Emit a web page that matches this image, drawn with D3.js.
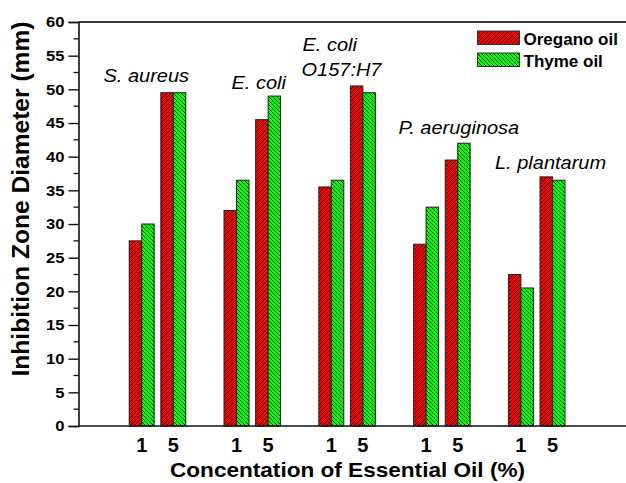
<!DOCTYPE html>
<html><head><meta charset="utf-8">
<script src="https://cdn.jsdelivr.net/npm/d3@7"></script>
<style>
body{margin:0;background:#fff;}
svg{display:block;font-family:"Liberation Sans",Arial,sans-serif;}
</style></head>
<body><svg id="c" width="626" height="483"></svg>
<script>
// ---- data ----
const organisms = ["S. aureus", "E. coli", "E. coli|O157:H7", "P. aeruginosa", "L. plantarum"];
const concentrations = ["1", "5"];
const seriesNames = ["Oregano oil", "Thyme oil"];
const oregano = [[27.5, 49.5], [32, 45.5], [35.5, 50.5], [27, 39.5], [22.5, 37]];
const thyme   = [[30, 49.5], [36.5, 49], [36.5, 49.5], [32.5, 42], [20.5, 36.5]];
const yTicks = [0, 5, 10, 15, 20, 25, 30, 35, 40, 45, 50, 55, 60];

// ---- layout ----
const svg = d3.select("#c");
const X0 = 78.5, Ytop = 22, Ybot = 426;
const x = d3.scaleLinear().domain([-2, 16]).range([X0, X0 + 18 * 31.6]);
const y = d3.scaleLinear().domain([0, 60]).range([Ybot, Ytop]);
const colors = ["#ff0000", "#00ff00"];
const barW = 0.395; // in position units
const pos = (g, c) => 3 * g + c;

// hatch patterns
const defs = svg.append("defs");
function hatch(id, color, dir) {
  const p = defs.append("pattern").attr("id", id).attr("patternUnits", "userSpaceOnUse")
    .attr("width", 4).attr("height", 4);
  p.append("rect").attr("width", 4).attr("height", 4).attr("fill", color);
  p.append("path").attr("d", dir > 0 ? "M-1,1 l2,-2 M0,4 l4,-4 M3,5 l2,-2" : "M-1,3 l2,2 M0,0 l4,4 M3,-1 l2,2")
    .attr("stroke", "#1a1a1a").attr("stroke-width", 0.9);
}
hatch("hr", colors[0], 1);
hatch("hg", colors[1], -1);
const fills = ["url(#hr)", "url(#hg)"];

// bars
const bars = [];
organisms.forEach((o, g) => concentrations.forEach((c, ci) => {
  bars.push({g, ci, s: 0, v: oregano[g][ci]});
  bars.push({g, ci, s: 1, v: thyme[g][ci]});
}));
svg.append("g").selectAll("rect").data(bars).join("rect")
  .attr("x", d => x(pos(d.g, d.ci) - barW + d.s * barW))
  .attr("width", x(barW) - x(0))
  .attr("y", d => y(d.v))
  .attr("height", d => y(0) - y(d.v))
  .attr("fill", d => fills[d.s])
  .attr("stroke", "#222").attr("stroke-width", 1);

// frame top
svg.append("line").attr("x1", X0).attr("x2", 626).attr("y1", Ytop).attr("y2", Ytop)
  .attr("stroke", "#3a3a3a").attr("stroke-width", 2);

// y axis
const yAxis = d3.axisLeft(y).tickValues(yTicks).tickSize(10).tickPadding(4).tickFormat(d3.format("d"));
const ya = svg.append("g").attr("transform", `translate(${X0},0)`).call(yAxis);
ya.select(".domain").attr("stroke", "#111").attr("stroke-width", 1.6);
ya.selectAll(".tick line").attr("stroke", "#111").attr("stroke-width", 1.4);
ya.selectAll("text").attr("font-size", 15.5).attr("font-weight", "bold").attr("fill", "#000")
  .attr("font-family", "Liberation Sans, Arial, sans-serif");
// minor ticks
const minor = d3.range(2.5, 60, 5);
svg.append("g").selectAll("line").data(minor).join("line")
  .attr("x1", X0 - 5).attr("x2", X0).attr("y1", d => y(d)).attr("y2", d => y(d))
  .attr("stroke", "#111").attr("stroke-width", 1.3);

// x axis line
svg.append("line").attr("x1", X0).attr("x2", 626).attr("y1", Ybot).attr("y2", Ybot)
  .attr("stroke", "#111").attr("stroke-width", 1.6);

// x tick labels
const xt = [];
organisms.forEach((o, g) => concentrations.forEach((c, ci) => xt.push({p: pos(g, ci), t: c})));
svg.append("g").selectAll("text").data(xt).join("text")
  .attr("x", d => x(d.p)).attr("y", 451.5).attr("text-anchor", "middle")
  .attr("font-size", 20).attr("font-weight", "bold").text(d => d.t);

// axis titles
svg.append("text").attr("x", 347.5).attr("y", 476.5).attr("text-anchor", "middle")
  .attr("font-size", 21).attr("font-weight", "bold").attr("textLength", 355).attr("lengthAdjust", "spacingAndGlyphs")
  .text("Concentation of Essential Oil (%)");
svg.append("text").attr("transform", "translate(28.5,199) rotate(-90)").attr("text-anchor", "middle")
  .attr("font-size", 23).attr("font-weight", "bold").attr("textLength", 355).attr("lengthAdjust", "spacingAndGlyphs")
  .text("Inhibition Zone Diameter (mm)");

// organism labels
const labelPos = [[103.5, 81.5], [231.5, 89], [302.5, 51], [398.5, 134], [495, 169]];
organisms.forEach((o, i) => {
  const lines = o.split("|");
  lines.forEach((ln, k) => {
    svg.append("text").attr("x", labelPos[i][0] - (k ? 1 : 0)).attr("y", labelPos[i][1] + k * 24.5)
      .attr("font-size", 18.5).attr("font-style", "italic").attr("class", "sx").text(ln);
  });
});

// legend
const lg = svg.append("g");
seriesNames.forEach((n, i) => {
  lg.append("rect").attr("x", 477.5).attr("y", 31 + i * 22).attr("width", 42).attr("height", 13.5)
    .attr("fill", fills[i]).attr("stroke", "#333").attr("stroke-width", 1);
  lg.append("text").attr("x", 523.5).attr("y", 44.5 + i * 22).attr("font-size", 17).attr("font-weight", "bold")
    .text(n);
});

// horizontal stretch to match reference text proportions
svg.selectAll("text.sx").each(function () {
  const w = this.getComputedTextLength();
  d3.select(this).attr("textLength", w * 1.08).attr("lengthAdjust", "spacingAndGlyphs");
});
ya.selectAll("text").each(function () {
  const w = this.getComputedTextLength();
  d3.select(this).attr("textLength", w * 1.07).attr("lengthAdjust", "spacingAndGlyphs");
});
</script></body></html>
